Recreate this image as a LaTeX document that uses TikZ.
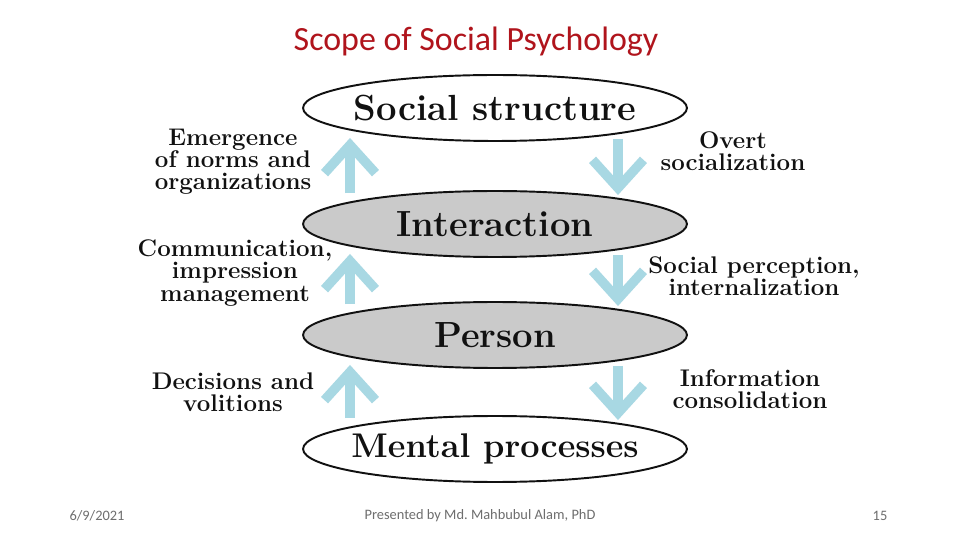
\documentclass[tikz,border=0pt]{standalone}
\usepackage{fontspec}
\usetikzlibrary{arrows.meta,calc,shapes.geometric}
\newfontfamily\slidefont{Carlito}
\definecolor{ink}{HTML}{111111}
\definecolor{titleRed}{HTML}{B0141C}
\definecolor{flowBlue}{HTML}{A8D8E3}
\definecolor{layerGray}{HTML}{CACACA}
\definecolor{footGray}{HTML}{6E6E6E}
\tikzset{
    layer/.style={ellipse, draw=ink, line width=1.1pt, inner sep=0pt,
                  minimum width=7.68cm, minimum height=1.32cm,
                  font=\fontsize{20.7}{22}\selectfont\bfseries, text=ink},
    core layer/.style={layer, fill=layerGray},
    outer layer/.style={layer, fill=white},
    up flow/.style={flowBlue, line width=5.4pt,
                    -{Straight Barb[length=16pt, width=29pt, sharp]}},
    down flow/.style={up flow},
    side text/.style={font=\fontsize{13.7}{12.6}\selectfont\bfseries,
                      text=ink, align=center, inner sep=0pt},
    title/.style={font=\slidefont\fontsize{19.3}{22}\selectfont, text=titleRed},
    footer/.style={font=\slidefont\fontsize{8.2}{10}\selectfont, text=footGray},
}
\begin{document}
\begin{tikzpicture}[x=0.02cm, y=-0.02cm]
\useasboundingbox[fill=white] (0,0) rectangle (960,540);

% Title
\node[title] (head) at (476,42) {Scope of Social Psychology};

% The four levels, from society down to the mind
\node[outer layer] (social) at (495,108) {\makebox[0pt]{Social structure}};
\node[core layer] (inter) at (495,224) {\makebox[0pt]{Interaction}};
\node[core layer] (person) at (495,335) {\makebox[0pt]{Person}};
\node[outer layer] (mental) at (495,449)
    {\makebox[0pt]{\fontsize{19.5}{22}\selectfont Mental processes}};

% Upward and downward influences between neighbouring levels
\foreach \lo/\hi in {inter/social, person/inter, mental/person} {
    \coordinate (\lo-up) at ($(\lo.north)+(-145,3)$);
    \coordinate (\hi-dn) at ($(\hi.south)+(123,-3)$);
    \draw[up flow] (\lo-up) -- ($(\hi.south)+(-145,-4)$);
    \draw[down flow] (\hi-dn) -- ($(\lo.north)+(123,5)$);
}

% Labels on the left (bottom-up) and right (top-down)
\node[side text] (emerge) at (233,162) {Emergence\\of norms and\\organizations};
\node[side text] (comm) at (235,273) {Communication,\\impression\\management};
\node[side text] (decide) at (233,392) {Decisions and\\volitions};
\node[side text] (overt) at (733,151) {Overt\\socialization};
\node[side text] (percept) at (754,276) {Social perception,\\internalization};
\node[side text] (consol) at (750,389) {Information\\consolidation};

% Slide footer
\node[footer] (date) at (97,516) {6/9/2021};
\node[footer] (author) at (480,516) {Presented by Md.\ Mahbubul Alam, PhD};
\node[footer] (page) at (880,516) {15};

\end{tikzpicture}
\end{document}
